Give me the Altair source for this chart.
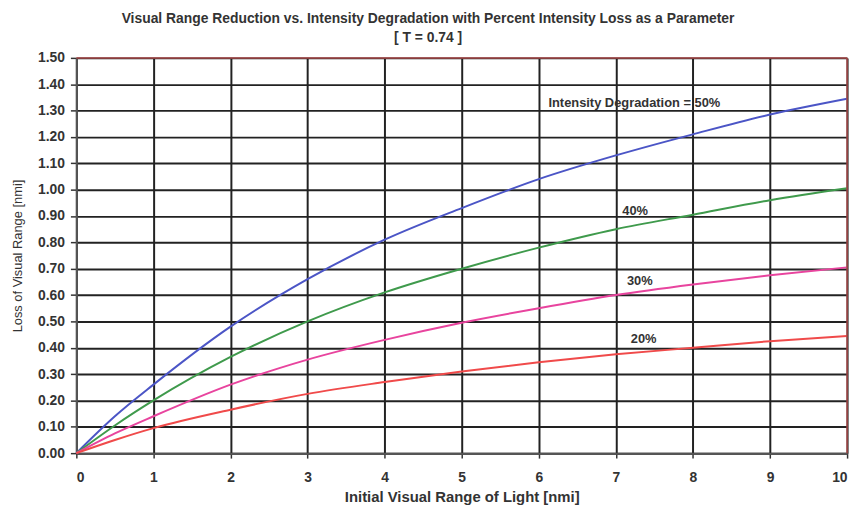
import altair as alt
import pandas as pd

x_vals = [0, 0.5, 1, 2, 3, 4, 5, 6, 7, 8, 9, 10]
loss_50 = [0, 0.14, 0.26, 0.48, 0.66, 0.81, 0.93, 1.04, 1.13, 1.21, 1.285, 1.345]
loss_40 = [0, 0.105, 0.20, 0.365, 0.50, 0.61, 0.70, 0.78, 0.85, 0.905, 0.96, 1.005]
loss_30 = [0, 0.075, 0.14, 0.26, 0.355, 0.43, 0.495, 0.55, 0.60, 0.64, 0.675, 0.705]
loss_20 = [0, 0.05, 0.095, 0.165, 0.225, 0.27, 0.31, 0.345, 0.375, 0.40, 0.425, 0.445]

series_names = ["50%", "40%", "30%", "20%"]
series_colors = ["#4b55c6", "#3f9a4c", "#e8449e", "#f04a4a"]

label_text = ["Intensity Degradation = 50%", "40%", "30%", "20%"]
label_x = [7.24, 7.25, 7.31, 7.36]
label_y = [1.33, 0.917, 0.654, 0.432]

x_ticks = list(range(0, 11))
y_ticks = [round(i * 0.1, 2) for i in range(0, 16)]

rows = []
for name, vals in zip(series_names, [loss_50, loss_40, loss_30, loss_20]):
    for xv, yv in zip(x_vals, vals):
        rows.append({"x": xv, "y": yv, "series": name})
df = pd.DataFrame(rows)

labels_df = pd.DataFrame({"x": label_x, "y": label_y, "text": label_text})
border_df = pd.DataFrame({"x": [10], "y": [1.5]})

FONT = "Liberation Sans"
TXT = "#333333"

xscale = alt.Scale(domain=[0, 10], nice=False)
yscale = alt.Scale(domain=[0, 1.5], nice=False)

xaxis = alt.Axis(values=x_ticks, format="d", grid=True, gridColor="#222222",
                 gridWidth=2, gridOpacity=1, tickColor="#333333", tickSize=5,
                 tickWidth=1.5, domainColor="#555555", domainWidth=2,
                 labelFont=FONT, labelFontSize=14, labelFontWeight="bold",
                 labelColor=TXT, labelPadding=13, labelOverlap=False,
                 titleFont=FONT, titleFontSize=15, titleFontWeight="bold",
                 titleColor=TXT, titlePadding=5)
yaxis = alt.Axis(values=y_ticks, format=".2f", grid=True, gridColor="#222222",
                 gridWidth=2, gridOpacity=1, tickColor="#333333", tickSize=6,
                 tickWidth=1.5, domainColor="#555555", domainWidth=2,
                 labelFont=FONT, labelFontSize=14, labelFontWeight="bold",
                 labelColor=TXT, labelPadding=6, labelOverlap=False,
                 titleFont=FONT, titleFontSize=13, titleFontWeight="normal",
                 titleColor=TXT, titlePadding=13)

xenc = alt.X("x:Q", scale=xscale, title="Initial Visual Range of Light [nmi]", axis=xaxis)
yenc = alt.Y("y:Q", scale=yscale, title="Loss of Visual Range [nmi]", axis=yaxis)

lines = alt.Chart(df).mark_line(strokeWidth=2, interpolate="monotone").encode(
    x=xenc, y=yenc,
    color=alt.Color("series:N", scale=alt.Scale(domain=series_names, range=series_colors),
                    legend=None),
)

top_rule = alt.Chart(border_df).mark_rule(color="#a84848", strokeWidth=1.5).encode(
    y=yenc, x=alt.value(0), x2=alt.value(778)
)
right_rule = alt.Chart(border_df).mark_rule(color="#a84848", strokeWidth=1.5).encode(
    x=xenc, y=alt.value(0), y2=alt.value(399)
)

labels = alt.Chart(labels_df).mark_text(
    font=FONT, fontSize=13, fontWeight="bold", color=TXT
).encode(x=xenc, y=yenc, text="text:N")

chart = alt.layer(lines, top_rule, right_rule, labels).properties(
    width=778, height=399,
    autosize=alt.AutoSizeParams(type="none"),
    padding={"left": 69, "top": 48, "right": 9, "bottom": 52},
    title=alt.Title(
        ["Visual Range Reduction vs. Intensity Degradation with Percent Intensity Loss as a Parameter",
         "[ T = 0.74 ]"],
        font=FONT, fontSize=14, fontWeight="bold", color=TXT, anchor="middle",
        dx=-34, offset=6, lineHeight=19,
    ),
).configure_view(stroke=None)

chart.save("out.html", embed_options={"renderer": "svg", "actions": False})
